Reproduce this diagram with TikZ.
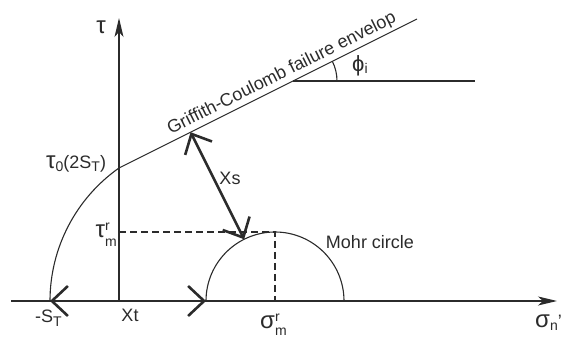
\documentclass[tikz,border=0pt]{standalone}
\usepackage{fontspec}
\setmainfont{Liberation Sans}
\usetikzlibrary{arrows.meta,calc}
\definecolor{ink}{HTML}{2B2B2B}
\newcommand{\gk}[1]{{\fontsize{24}{24}\selectfont #1}}
\newcommand{\SubT}[2]{\raisebox{-#1}{\fontsize{14}{14}\selectfont #2}}
\newcommand{\SupSub}[4]{\rlap{\raisebox{#1}{\fontsize{14}{14}\selectfont #3}}\raisebox{-#2}{\fontsize{14}{14}\selectfont #4}}
\begin{document}
\begin{tikzpicture}[x=1pt,y=1pt,
  thinline/.style={draw=ink, line width=1.1pt},
  dashline/.style={draw=ink, line width=1.1pt, dash pattern=on 7pt off 4pt},
  thickarrow/.style={draw=ink, line width=2.6pt,
    {Straight Barb[length=16pt,width=30pt]}-{Straight Barb[length=16pt,width=30pt]}},
  axisline/.style={draw=ink, line width=1.1pt, -{Stealth[length=19pt,width=9pt,inset=5pt]}},
  lbl/.style={text=ink, font=\fontsize{18}{20}\selectfont, inner sep=0pt},
]
\useasboundingbox (0,0) rectangle (571,339);
% axes
\coordinate (O) at (119,38);
\coordinate (xs) at (11,38);
\coordinate (xe) at (557,38);
\coordinate (ye) at (119,321);
\draw[axisline] (xs) -- (xe);
\draw[axisline] (O) -- (ye);
% envelope
\coordinate (A) at (119,171);
\coordinate (E) at (417,320);
\draw[thinline] (A) -- (E);
\coordinate (P) at (293,258);
\coordinate (H) at (475,258);
\draw[thinline] (P) -- (H);
\draw[thinline] ([xshift=44pt]P) arc[start angle=0,end angle=26.57,radius=44];
% left arc
\coordinate (ST) at (50,38);
\draw[thinline] (ST) arc[start angle=180,end angle=125.2,radius=162.7];
% Mohr circle
\coordinate (M) at (275,38);
\coordinate (ML) at (206,38);
\draw[thinline] (ML) arc[start angle=180,end angle=0,radius=69];
% dashed
\coordinate (T) at (119,107);
\coordinate (MT) at (275,107);
\draw[dashline] (T) -- (MT) -- (M);
% Xs and Xt
\coordinate (F) at ($(A)!(M)!(E)$);
\coordinate (C) at ($(M)!69pt!(F)$);
\draw[thickarrow] (F) -- (C);
\draw[thickarrow] (ST) -- (ML);
% labels
\node[lbl] (tau) at (101,312) {\gk{τ}};
\node[lbl, anchor=base west] (phi) at (352,267) {\fontsize{22}{22}\selectfont ϕ\SubT{2pt}{i}};
\node[lbl, anchor=base west] (tau0) at (46,170) {\gk{τ}\SubT{3pt}{0}(2S\SubT{3pt}{T})};
\node[lbl, anchor=base east] (taurm) at (117,101) {\gk{τ}\SupSub{7pt}{9pt}{r}{m}};
\node[lbl] (xslbl) at (230,161) {Xs};
\node[lbl] (xtlbl) at (130,24) {Xt};
\node[lbl, anchor=base west] (stlbl) at (35,16) {-S\SubT{4pt}{T}};
\node[lbl, anchor=base west] (sigrm) at (260,10) {\gk{σ}\SupSub{7pt}{7pt}{r}{m}};
\node[lbl, anchor=base west] (sign) at (535,11) {\gk{σ}\SubT{3pt}{n}'};
\node[lbl] (mohr) at (370,97) {Mohr circle};
\node[lbl, rotate=26.57, anchor=base] (gc) at (284,261) {Griffith-Coulomb failure envelop};
\end{tikzpicture}
\end{document}
